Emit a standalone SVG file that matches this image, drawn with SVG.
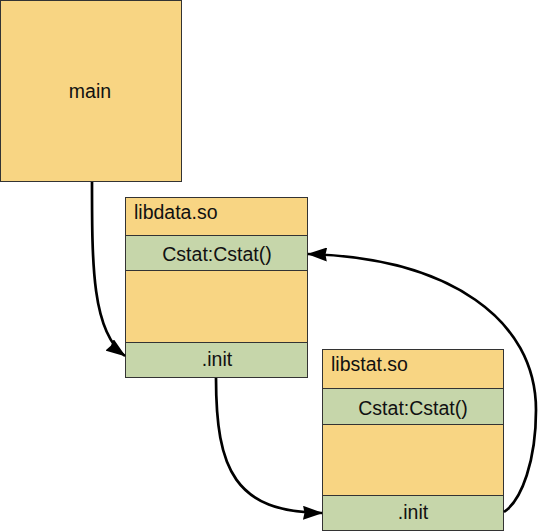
<svg xmlns="http://www.w3.org/2000/svg" width="548" height="532" viewBox="0 0 548 532">
<style>
.o{fill:#F8D583;stroke:#333;stroke-width:1}
.g{fill:#C6D6AA;stroke:#333;stroke-width:1}
text{font-family:"Liberation Sans",Arial,sans-serif;font-size:19.5px;fill:#111}
.c{text-anchor:middle}
.e{fill:none;stroke:#000;stroke-width:2.7}
</style>
<defs>
<marker id="ah" viewBox="0 0 20 14" refX="19" refY="7" markerWidth="20" markerHeight="14" markerUnits="userSpaceOnUse" orient="auto">
<path d="M0,0 L20,7 L0,14 L1.5,7 z" fill="#000"/>
</marker>
</defs>
<rect x="0" y="0" width="548" height="532" fill="#fff"/>
<g id="main">
<rect class="o" x="0.5" y="0.5" width="181" height="181"/>
<text class="c" x="90" y="98">main</text>
</g>
<g id="libdata">
<rect class="o" x="125.5" y="197.5" width="182" height="38"/>
<rect class="g" x="125.5" y="235.5" width="182" height="35"/>
<rect class="o" x="125.5" y="270.5" width="182" height="72"/>
<rect class="g" x="125.5" y="342.5" width="182" height="35"/>
<text x="134" y="219">libdata.so</text>
<text class="c" x="217" y="261">Cstat:Cstat()</text>
<text class="c" x="217" y="366">.init</text>
</g>
<g id="libstat">
<rect class="o" x="322.5" y="349.5" width="181" height="39"/>
<rect class="g" x="322.5" y="388.5" width="181" height="36"/>
<rect class="o" x="322.5" y="424.5" width="181" height="71"/>
<rect class="g" x="322.5" y="495.5" width="181" height="35"/>
<text x="331" y="371">libstat.so</text>
<text class="c" x="413" y="415">Cstat:Cstat()</text>
<text class="c" x="413" y="519">.init</text>
</g>
<g id="connectors">
<path class="e" d="M92,182 C92,265 92,332 125,356" marker-end="url(#ah)"/>
<path class="e" d="M216,378 C216,470 235,512 322,513" marker-end="url(#ah)"/>
<path class="e" d="M504,512 C522,500 536,460 536,410 C536,320 450,258 308,254" marker-end="url(#ah)"/>
</g>
</svg>
